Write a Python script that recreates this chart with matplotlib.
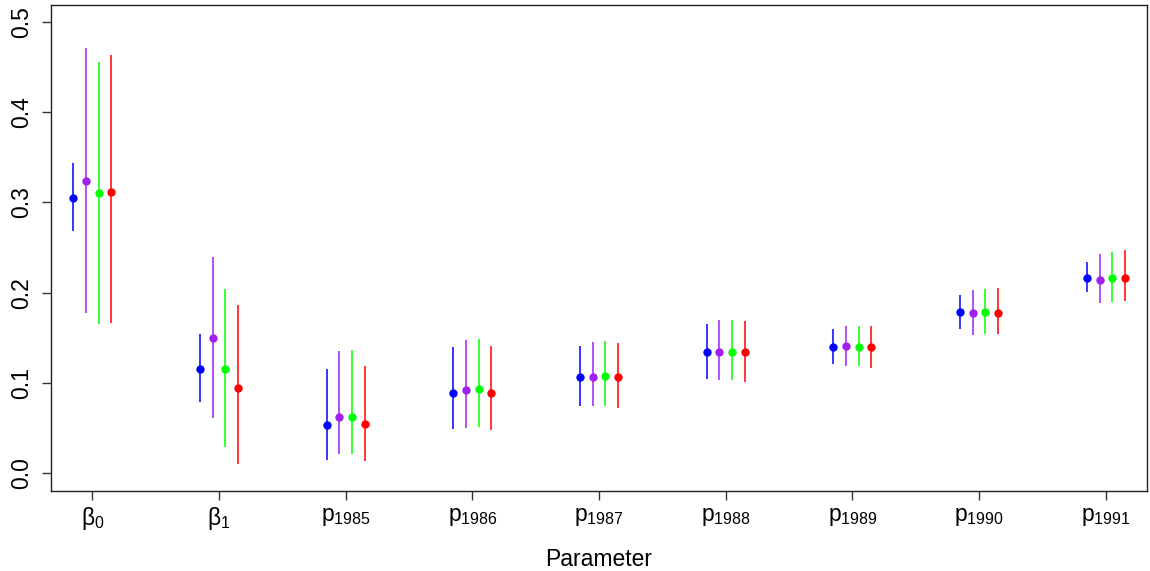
import numpy as np
import matplotlib
matplotlib.use("Agg")
import matplotlib.pyplot as plt

plt.rcParams['font.family'] = ['Liberation Sans', 'DejaVu Sans']
plt.rcParams['mathtext.fontset'] = 'custom'
plt.rcParams['mathtext.rm'] = 'Liberation Sans'
plt.rcParams['mathtext.it'] = 'Liberation Sans'
plt.rcParams['mathtext.bf'] = 'Liberation Sans'

params = [r'$\beta_0$', r'$\beta_1$', r'$p_{1985}$', r'$p_{1986}$', r'$p_{1987}$',
          r'$p_{1988}$', r'$p_{1989}$', r'$p_{1990}$', r'$p_{1991}$']

# point estimates and interval ends, one list per method
blue_est = [0.305, 0.116, 0.0535, 0.0893, 0.1064, 0.134, 0.1396, 0.1787, 0.2167]
blue_lo = [0.268, 0.0787, 0.0147, 0.0488, 0.0746, 0.1045, 0.1214, 0.160, 0.2005]
blue_hi = [0.344, 0.154, 0.1156, 0.140, 0.141, 0.1658, 0.160, 0.197, 0.234]

purple_est = [0.324, 0.1496, 0.0627, 0.092, 0.1064, 0.134, 0.1407, 0.1776, 0.2145]
purple_lo = [0.177, 0.061, 0.0214, 0.0506, 0.0746, 0.1034, 0.119, 0.1536, 0.1884]
purple_hi = [0.471, 0.239, 0.1355, 0.1477, 0.1455, 0.170, 0.1636, 0.2028, 0.243]

green_est = [0.310, 0.116, 0.0627, 0.0931, 0.1075, 0.134, 0.1396, 0.1787, 0.2167]
green_lo = [0.165, 0.0295, 0.0214, 0.0517, 0.0746, 0.1034, 0.119, 0.1547, 0.1895]
green_hi = [0.455, 0.204, 0.1366, 0.1488, 0.1466, 0.170, 0.1636, 0.204, 0.2453]

red_est = [0.312, 0.0949, 0.0546, 0.0893, 0.1064, 0.134, 0.1396, 0.1776, 0.2167]
red_lo = [0.167, 0.010, 0.014, 0.0476, 0.072, 0.101, 0.117, 0.1547, 0.1906]
red_hi = [0.463, 0.1865, 0.1189, 0.141, 0.1444, 0.169, 0.1636, 0.205, 0.2475]

series = [
    (blue_est, blue_lo, blue_hi, '#0000FF', -0.15),
    (purple_est, purple_lo, purple_hi, '#A020F0', -0.05),
    (green_est, green_lo, green_hi, '#00FF00', 0.05),
    (red_est, red_lo, red_hi, '#FF0000', 0.15),
]

fig = plt.figure(figsize=(11.5, 5.71), dpi=100)
ax = fig.add_axes([0.0443, 0.1406, 0.9528, 0.8512])

x = np.arange(1, len(params) + 1)
for est, lo, hi, col, off in series:
    ax.vlines(x + off, lo, hi, color=col, lw=1.1)
    ax.plot(x + off, est, 'o', color=col, ms=5, mec=col)

ax.set_xlim(0.674, 9.322)
ax.set_ylim(-0.0193, 0.519)
ax.set_xticks(x)
ax.set_xticklabels(params, fontsize=16.5)
ax.set_yticks([0.0, 0.1, 0.2, 0.3, 0.4, 0.5])
ax.set_yticklabels(['0.0', '0.1', '0.2', '0.3', '0.4', '0.5'], fontsize=16.5,
                   rotation=90, va='center')
ax.tick_params(axis='both', direction='out', length=6.5, width=1, color='#333333')
ax.tick_params(axis='x', pad=4)
ax.tick_params(axis='y', pad=6)
for s in ax.spines.values():
    s.set_linewidth(1)
    s.set_color('#222222')
ax.set_xlabel('Parameter', fontsize=16.5, labelpad=11)

fig.savefig('out.png', dpi=100)
